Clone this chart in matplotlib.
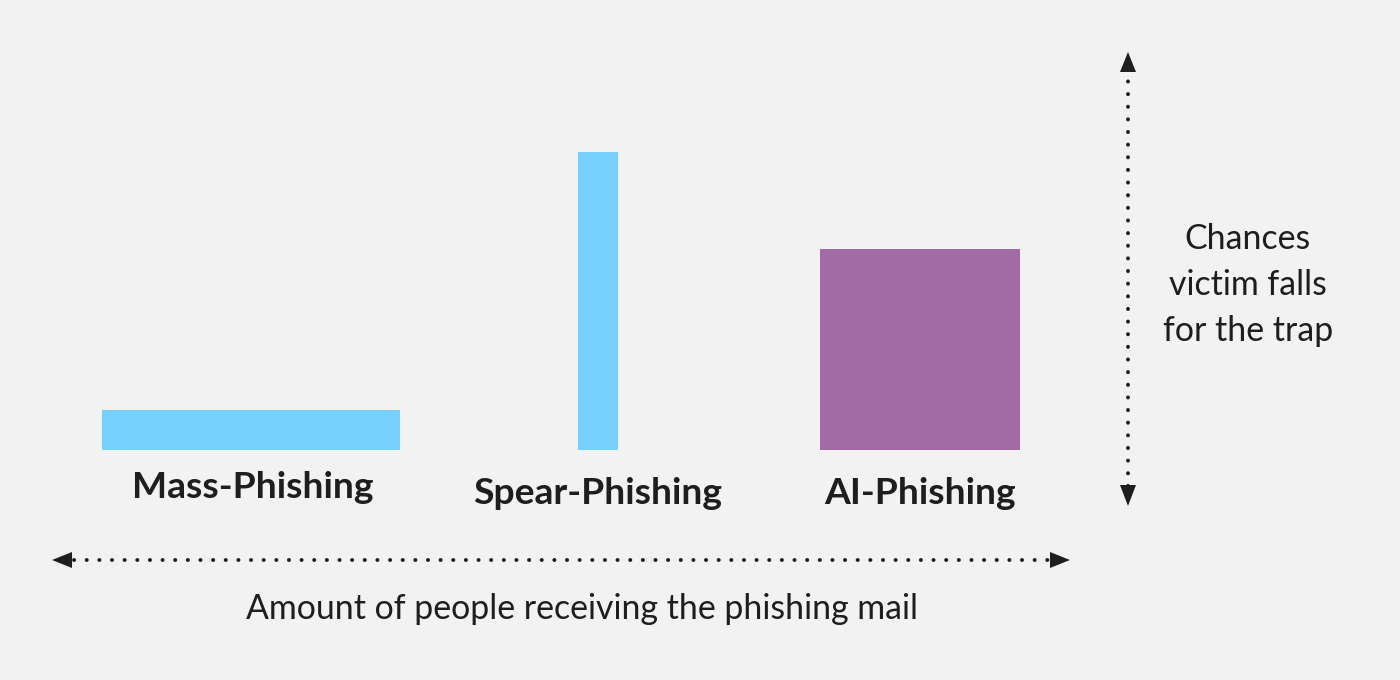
import matplotlib.pyplot as plt
from matplotlib.patches import Polygon

# bar data: width = reach (how many people get the mail), height = chance victim falls for it
labels = ['Mass-Phishing', 'Spear-Phishing', 'AI-Phishing']
reach = [298, 40, 200]
chance = [40, 298, 201]

# layout (pixel-ish units, figure is 1400x680)
centers = [251, 598, 920]
label_x = [253, 598, 920]
label_y = [193, 187, 187]
colors = ['#75d0fe', '#75d0fe', '#a36ba6']
base = 230
bg = '#f2f2f2'
ink = '#1e1e1e'

plt.rcParams['font.family'] = ['Lato', 'DejaVu Sans']

fig = plt.figure(figsize=(14, 6.8), dpi=100, facecolor=bg)
ax = fig.add_axes([0, 0, 1, 1])
ax.set_facecolor(bg)
ax.set_xlim(0, 1400)
ax.set_ylim(0, 680)
ax.axis('off')

ax.bar(centers, chance, width=reach, bottom=base, color=colors, edgecolor='none')

for x, y, lab in zip(label_x, label_y, labels):
    ax.text(x, y, lab, ha='center', va='center', fontsize=26.8, fontweight='bold', color=ink)

# dotted arrows
dots = dict(color=ink, lw=2.8, linestyle=(0, (0.05, 3.2)), dash_capstyle='round')
ax.plot([74, 1050], [120, 120], **dots)
ax.plot([1128, 1128], [194, 610], **dots)

heads = [
    [(52, 120), (72, 128), (72, 112)],
    [(1070, 120), (1050, 128), (1050, 112)],
    [(1128, 628), (1120, 608), (1136, 608)],
    [(1128, 174), (1120, 195), (1136, 195)],
]
for h in heads:
    ax.add_patch(Polygon(h, closed=True, color=ink, lw=0))

ax.text(582, 71, 'Amount of people receiving the phishing mail', ha='center', va='center',
        fontsize=24.4, color=ink)
ax.text(1248, 395, 'Chances\nvictim falls\nfor the trap', ha='center', va='center',
        fontsize=24.4, color=ink, linespacing=1.55)

fig.savefig('out.png', dpi=100, facecolor=bg)
